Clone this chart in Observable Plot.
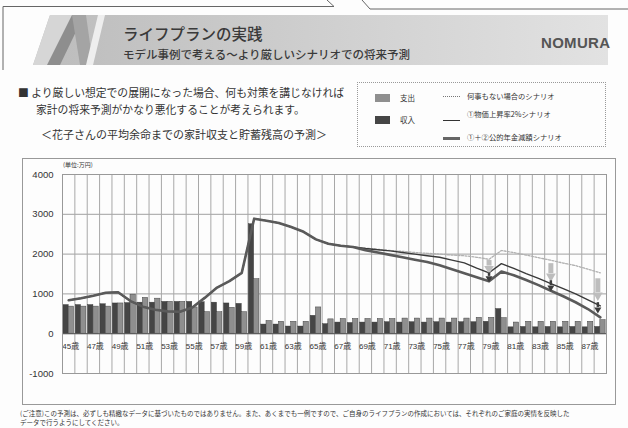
<!DOCTYPE html>
<html><head><meta charset="utf-8">
<script src="https://cdn.jsdelivr.net/npm/d3@7"></script>
<script src="https://cdn.jsdelivr.net/npm/@observablehq/plot@0.6"></script>
<style>
body{margin:0;background:#fff;}
#page{position:relative;width:628px;height:428px;overflow:hidden;font-family:"Noto Sans CJK JP","Noto Sans",sans-serif;color:#333;background:#fdfdfd;}
.t{position:absolute;white-space:nowrap;line-height:1;}
#chart{position:absolute;left:0;top:158px;}
</style></head><body><div id="page">
<svg width="628" height="70" style="position:absolute;left:0;top:0">
  <defs><linearGradient id="bg" x1="0" x2="1" y1="0" y2="0">
    <stop offset="0" stop-color="#bcbcbc"/><stop offset="0.45" stop-color="#cdcdcd"/><stop offset="1" stop-color="#e2e2e2"/>
  </linearGradient></defs>
  <polyline points="3,428 3,6.5 334,6.5" fill="none" stroke="#666" stroke-width="1"/>
  <line x1="327" y1="0" x2="334" y2="6.5" stroke="#666"/>
  <line x1="362" y1="0" x2="370" y2="9" stroke="#666"/>
  <line x1="370" y1="9" x2="628" y2="9" stroke="#666"/>
  <polygon points="33,65 50,15 608,15 608,65" fill="url(#bg)"/>
  <polygon points="33,65 50,15 76,15 59,65" fill="#d6d6d6"/>
  <polygon points="47,65 72,15 84,15 60,65" fill="#8e8e8e"/>
  <polygon points="72,15 86,15 93,65 80,65" fill="#a4a4a4"/>
  <polygon points="86,65 98,15 105,15 93,65" fill="#eeeeee"/>
</svg>
<div class="t" style="left:123px;top:26px;font-size:15.5px;color:#3a3a3a;font-weight:500;">ライフプランの実践</div>
<div class="t" style="left:123px;top:48.5px;font-size:11.5px;color:#3a3a3a;font-weight:500;">モデル事例で考える～より厳しいシナリオでの将来予測</div>
<div class="t" style="left:541px;top:35px;font-size:15px;color:#555;font-weight:bold;font-family:'Liberation Sans',sans-serif;letter-spacing:0.3px;">NOMURA</div>

<div class="t" style="left:18px;top:87px;font-size:10.8px;">■ より厳しい想定での展開になった場合、何も対策を講じなければ</div>
<div class="t" style="left:36px;top:104px;font-size:10.8px;">家計の将来予測がかなり悪化することが考えられます。</div>
<div class="t" style="left:41px;top:129px;font-size:11px;">＜花子さんの平均余命までの家計収支と貯蓄残高の予測＞</div>

<div style="position:absolute;left:357px;top:82px;width:247px;height:63px;border:1px dotted #999;"></div>
<div style="position:absolute;left:375px;top:94px;width:15px;height:8px;background:#8f8f8f;"></div>
<div style="position:absolute;left:375px;top:116px;width:15px;height:8px;background:#454545;"></div>
<div class="t" style="left:400px;top:94px;font-size:7.5px;">支出</div>
<div class="t" style="left:400px;top:116px;font-size:7.5px;">収入</div>
<div style="position:absolute;left:443px;top:96px;width:17px;height:0;border-top:1.5px dotted #777;"></div>
<div style="position:absolute;left:443px;top:120px;width:17px;height:1px;background:#333;"></div>
<div style="position:absolute;left:443px;top:137px;width:17px;height:3px;background:#666;"></div>
<div class="t" style="left:467px;top:93px;font-size:7.3px;">何事もない場合のシナリオ</div>
<div class="t" style="left:467px;top:111px;font-size:7.3px;">①物価上昇率2%シナリオ</div>
<div class="t" style="left:467px;top:134px;font-size:7.3px;">①＋②公的年金減額シナリオ</div>

<div style="position:absolute;left:22px;top:158px;width:592px;height:245px;border:1px solid #999;"></div>
<div id="chart"></div>
<div class="t" style="left:63px;top:162px;font-size:6px;">(単位:万円)</div>

<div class="t" style="left:20px;top:410px;font-size:6.5px;">(ご注意)この予測は、必ずしも精緻なデータに基づいたものではありません。また、あくまでも一例ですので、ご自身のライフプランの作成においては、それぞれのご家庭の実情を反映した</div>
<div class="t" style="left:20px;top:419px;font-size:6.5px;">データで行うようにしてください。</div>
</div>
<script>
const ages = [45,46,47,48,49,50,51,52,53,54,55,56,57,58,59,60,61,62,63,64,65,66,67,68,69,70,71,72,73,74,75,76,77,78,79,80,81,82,83,84,85,86,87,88];
const income = [720,720,720,740,760,770,780,780,800,800,800,790,780,760,750,2750,230,230,180,180,450,240,280,270,280,280,290,280,290,280,290,280,290,290,300,620,160,170,160,170,160,170,160,170];
const expense = [680,680,680,680,760,980,900,880,800,800,660,540,540,650,540,1370,320,300,300,300,660,360,370,370,370,370,370,380,380,380,380,380,380,400,400,390,280,300,300,300,300,300,300,340];
// common savings path (ages 45-68), all scenarios overlap
const commonPath = [840,890,955,1030,1040,820,680,600,560,550,660,900,1160,1320,1530,2890,2840,2780,2680,2560,2370,2260,2210,2180];
// ages 69-88
const tailNone = [2150,2120,2090,2070,2040,2020,2000,1975,1960,1920,1870,2090,2040,1975,1910,1845,1775,1710,1620,1530];
const tailPrice = [2140,2110,2080,2040,2000,1960,1920,1850,1780,1650,1530,1760,1640,1510,1390,1260,1130,1000,850,700];
const tailPension = [2100,2040,1980,1920,1860,1800,1720,1620,1520,1420,1320,1560,1470,1350,1220,1080,940,790,620,410];
const yTicks = [-1000,0,1000,2000,3000,4000];
const xLabelAges = [45,47,49,51,53,55,57,59,61,63,65,67,69,71,73,75,77,79,81,83,85,87];
const arrowAges = [79,84,87.8];
const bigArrowFrom = [1840,1760,1380];
const bigArrowTo = [1700,1510,1030];
const smallArrowFrom = [1530,1330,780];
const smallArrowTo = [1440,1210,660];

const bars = ages.map((a,i)=>({age:a, income:income[i], expense:expense[i]}));
const mk = tail => ages.map((a,i)=>({age:a, v: i < commonPath.length ? commonPath[i] : tail[i-commonPath.length]}));
const noneData = mk(tailNone), priceData = mk(tailPrice), pensionData = mk(tailPension);
const gridX = ages.map(a=>a-0.5).concat([88.5]);
const arrows = arrowAges.map((a,i)=>({age:a, b1:bigArrowFrom[i], b2:bigArrowTo[i], s1:smallArrowFrom[i], s2:smallArrowTo[i]}));

const chart = Plot.plot({
  width:628, height:246,
  marginLeft:62, marginRight:22, marginTop:16, marginBottom:31,
  x:{type:"linear", domain:[44.5,88.5], axis:null},
  y:{domain:[-1000,4000], axis:null},
  style:{background:"transparent", fontFamily:"'Liberation Sans','Noto Sans CJK JP',sans-serif", color:"#333"},
  marks:[
    Plot.ruleY(yTicks,{stroke:"#a0a0a0", strokeWidth:1}),
    Plot.ruleX(gridX,{stroke:"#a8a8a8", strokeWidth:1}),
    Plot.rectY(bars,{x1:d=>d.age-0.43, x2:d=>d.age, y1:d=>0, y2:"income", fill:"#454545", stroke:"#333", strokeWidth:0.4}),
    Plot.rectY(bars,{x1:d=>d.age, x2:d=>d.age+0.43, y1:d=>0, y2:"expense", fill:"#8f8f8f", stroke:"#444", strokeWidth:0.5}),
    Plot.ruleY([0],{stroke:"#555"}),
    Plot.line(noneData,{x:"age", y:"v", stroke:"#b0b0b0", strokeWidth:1.3, strokeDasharray:"2,1.5"}),
    Plot.line(priceData,{x:"age", y:"v", stroke:"#3a3a3a", strokeWidth:1.4}),
    Plot.line(pensionData,{x:"age", y:"v", stroke:"#5a5a5a", strokeWidth:2.6}),
    Plot.ruleX(arrows,{x:"age", y1:"b1", y2:"b2", stroke:"#bdbdbd", strokeWidth:5}),
    Plot.dot(arrows,{x:"age", y:"b2", symbol:"triangle", rotate:180, r:3.6, dy:2.7, fill:"#bdbdbd"}),
    Plot.ruleX(arrows,{x:"age", y1:"s1", y2:"s2", stroke:"#3c3c3c", strokeWidth:2.5}),
    Plot.dot(arrows,{x:"age", y:"s2", symbol:"triangle", rotate:180, r:2.6, dy:2, fill:"#3c3c3c"}),
    Plot.axisY({ticks:yTicks, tickSize:0, tickPadding:9, tickFormat:d=>String(d), fontSize:9.5, label:null}),
    Plot.text(xLabelAges,{x:d=>d, y:d=>0, dy:13, dx:2, text:d=>d+"歳", fontSize:8, fill:"#333"}),
    Plot.frame({stroke:"#999"})
  ]
});
document.getElementById("chart").appendChild(chart);
</script>
</body></html>
